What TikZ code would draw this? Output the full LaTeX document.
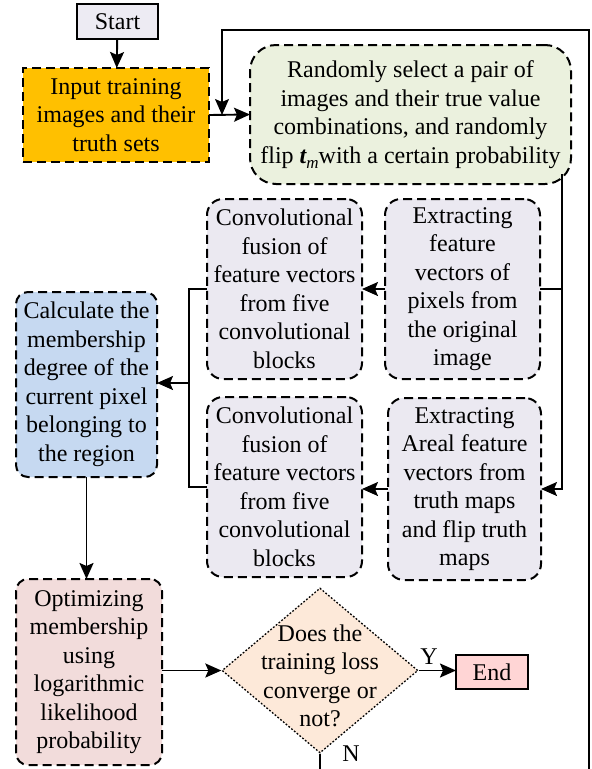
\documentclass[tikz,border=0pt]{standalone}
\usepackage{fontspec}
\setmainfont{Liberation Serif}
\usetikzlibrary{shapes.geometric,arrows.meta,calc}

\definecolor{startfill}{HTML}{EDEBF3}
\definecolor{inputfill}{HTML}{FFC000}
\definecolor{randfill}{HTML}{EBF1DE}
\definecolor{stepfill}{HTML}{EBE9F1}
\definecolor{calcfill}{HTML}{C6D9F1}
\definecolor{optfill}{HTML}{F2DCDB}
\definecolor{diafill}{HTML}{FDE9D9}
\definecolor{endfill}{HTML}{FFD5D5}

\begin{document}
\begin{tikzpicture}[x=1pt,y=-1pt,
  every node/.style={font=\fontsize{24}{28.5}\selectfont},
  base/.style={align=center, inner sep=0pt, outer sep=0pt},
  dbox/.style={base, draw, line width=2pt, dash pattern=on 9pt off 5pt},
  sbox/.style={base, draw, line width=1.6pt},
  arr/.style={line width=1.9pt, -{Stealth[length=16pt,width=14pt,inset=3pt]}},
  wire/.style={line width=1.9pt},
  loopline/.style={line width=1.5pt}]

\useasboundingbox (0,0) rectangle (592,769);

% process boxes
\node[sbox, fill=startfill, minimum width=81pt, minimum height=35pt] (start) at (117.5,21.5) {Start};
\node[dbox, fill=inputfill, minimum width=186pt, minimum height=94pt] (input) at (116,115)
  {Input training\\images and their\\truth sets};
\node[dbox, fill=randfill, rounded corners=26pt, minimum width=321pt, minimum height=139pt] (rand) at (410.5,114.5)
  {Randomly select a pair of\\images and their true value\\combinations, and randomly\\flip {\bfseries\itshape t}\raisebox{-5pt}{\fontsize{17}{17}\selectfont\itshape m}with a certain probability};
\node[dbox, fill=stepfill, rounded corners=16pt, minimum width=155pt, minimum height=180pt] (ext1) at (462.5,289)
  {Extracting\\feature\\vectors of\\pixels from\\the original\\image};
\node[dbox, fill=stepfill, rounded corners=16pt, minimum width=153pt, minimum height=182pt] (ext2) at (464.5,489)
  {Extracting\\Areal feature\\vectors from\\truth maps\\and flip truth\\maps};
\node[dbox, fill=stepfill, rounded corners=16pt, minimum width=155pt, minimum height=180pt] (conv1) at (284.5,289)
  {Convolutional\\fusion of\\feature vectors\\from five\\convolutional\\blocks};
\node[dbox, fill=stepfill, rounded corners=16pt, minimum width=155pt, minimum height=180pt] (conv2) at (284.5,487)
  {Convolutional\\fusion of\\feature vectors\\from five\\convolutional\\blocks};
\node[dbox, fill=calcfill, rounded corners=12pt, minimum width=141pt, minimum height=185pt] (calc) at (86.5,384.5)
  {Calculate the\\membership\\degree of the\\current pixel\\belonging to\\the region};
\node[dbox, fill=optfill, rounded corners=12pt, minimum width=146pt, minimum height=186pt] (opt) at (89,672)
  {Optimizing\\membership\\using\\logarithmic\\likelihood\\probability};

% decision
\node[diamond, draw, fill=diafill, line width=1.3pt, dash pattern=on 1.8pt off 1.8pt,
  inner sep=0pt, minimum width=196pt, minimum height=165pt] (dia) at (320,670.5) {};
\node[base] (diatext) at (320,676) {Does the\\training loss\\converge or\\not?};
\node[sbox, fill=endfill, minimum width=72pt, minimum height=34pt] (end) at (492,672) {End};
\node[base] (ylab) at (429,657) {Y};
\node[base] (nlab) at (351,754) {N};

% junction and loop points
\coordinate (rs) at ($(rand.south east)+(-9,-10)$);
\coordinate (jx) at (189,383);
\coordinate (loopIn) at (222,115);
\coordinate (loopT) at (589,30);
\coordinate (loopB) at (589,769);
\coordinate (nB) at (320,769);

% connectors
\draw[arr] (start) -- (input);
\draw[arr] (input.east) -- (rand.west);
\draw[arr, loopline] (loopB) -- (loopT) -| (loopIn);
\draw[wire] (rs) -- (rs |- ext1.east) -- (ext1.east);
\draw[arr] (rs |- ext1.east) |- (ext2.east);
\draw[arr] (ext1.west) -- (conv1.east);
\draw[arr] (ext2.west) -- (ext2.west -| conv2.east);
\draw[wire] (conv1.west) -- (conv1.west -| jx) -- (conv2.west -| jx) -- (conv2.west);
\draw[arr] (jx) -- (jx -| calc.east);
\draw[arr] (calc.south) -- (calc.south |- opt.north);
\draw[arr] (dia.west -| opt.east) -- (dia.west);
\draw[arr] (dia.east) -- (dia.east -| end.west);
\draw[wire] (dia.south) -- (nB);
\end{tikzpicture}
\end{document}
